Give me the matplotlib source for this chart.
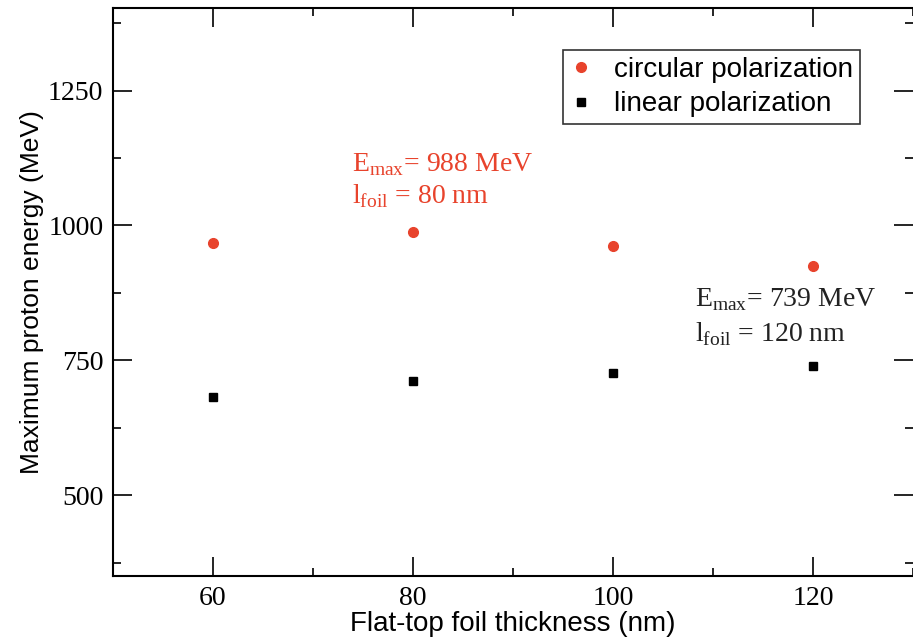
import matplotlib
matplotlib.use("Agg")
import matplotlib.pyplot as plt
from matplotlib.ticker import MultipleLocator

# foil thickness (nm) and maximum proton energy (MeV)
thickness = [60, 80, 100, 120]
e_circular = [968, 988, 961, 924]
e_linear = [681, 711, 726, 739]

red = "#e8432c"
serif = "Liberation Serif"
sans = "Liberation Sans"

fig = plt.figure(figsize=(9.13, 6.41), dpi=100)
ax = fig.add_axes([0.1238, 0.1014, 0.8762, 0.8861])

ax.plot(thickness, e_circular, "o", color=red, ms=7, mec=red, label="circular polarization")
ax.plot(thickness, e_linear, "s", color="black", ms=6, label="linear polarization")

ax.set_xlim(50, 130)
ax.set_ylim(350, 1403)
ax.xaxis.set_major_locator(MultipleLocator(20))
ax.xaxis.set_minor_locator(MultipleLocator(10))
ax.yaxis.set_major_locator(MultipleLocator(250))
ax.yaxis.set_minor_locator(MultipleLocator(125))
ax.tick_params(which="both", direction="in", top=True, right=True, width=1.2)
ax.tick_params(which="major", length=14, labelsize=20, pad=7)
ax.tick_params(which="minor", length=6)
for lab in ax.get_xticklabels() + ax.get_yticklabels():
    lab.set_fontfamily(serif)
for sp in ax.spines.values():
    sp.set_linewidth(1.5)
ax.spines["right"].set_visible(False)

ax.set_xlabel("Flat-top foil thickness (nm)", fontsize=20, family=sans, labelpad=0)
ax.set_ylabel("Maximum proton energy (MeV)", fontsize=19, family=sans, labelpad=3)

# peak annotations
i_c = e_circular.index(max(e_circular))
i_l = e_linear.index(max(e_linear))
ax.text(73.9, 1113, r"E$_{\mathregular{max}}$= %d MeV" % e_circular[i_c],
        color=red, family=serif, fontsize=20, va="center")
ax.text(73.9, 1054, r"l$_{\mathregular{foil}}$ = %d nm" % thickness[i_c],
        color=red, family=serif, fontsize=20, va="center")
ax.text(108.2, 863, r"E$_{\mathregular{max}}$= %d MeV" % e_linear[i_l],
        color="#222222", family=serif, fontsize=20, va="center")
ax.text(108.2, 798, r"l$_{\mathregular{foil}}$ = %d nm" % thickness[i_l],
        color="#222222", family=serif, fontsize=20, va="center")

leg = ax.legend(loc="upper right", bbox_to_anchor=(0.934, 0.926), prop={"family": sans, "size": 20},
                fancybox=False, framealpha=1, edgecolor="#333333", handlelength=0.8,
                handletextpad=0.8, borderpad=0.25, labelspacing=0.3, borderaxespad=0)
leg.get_frame().set_linewidth(1.2)

fig.savefig("out.png", dpi=100)
